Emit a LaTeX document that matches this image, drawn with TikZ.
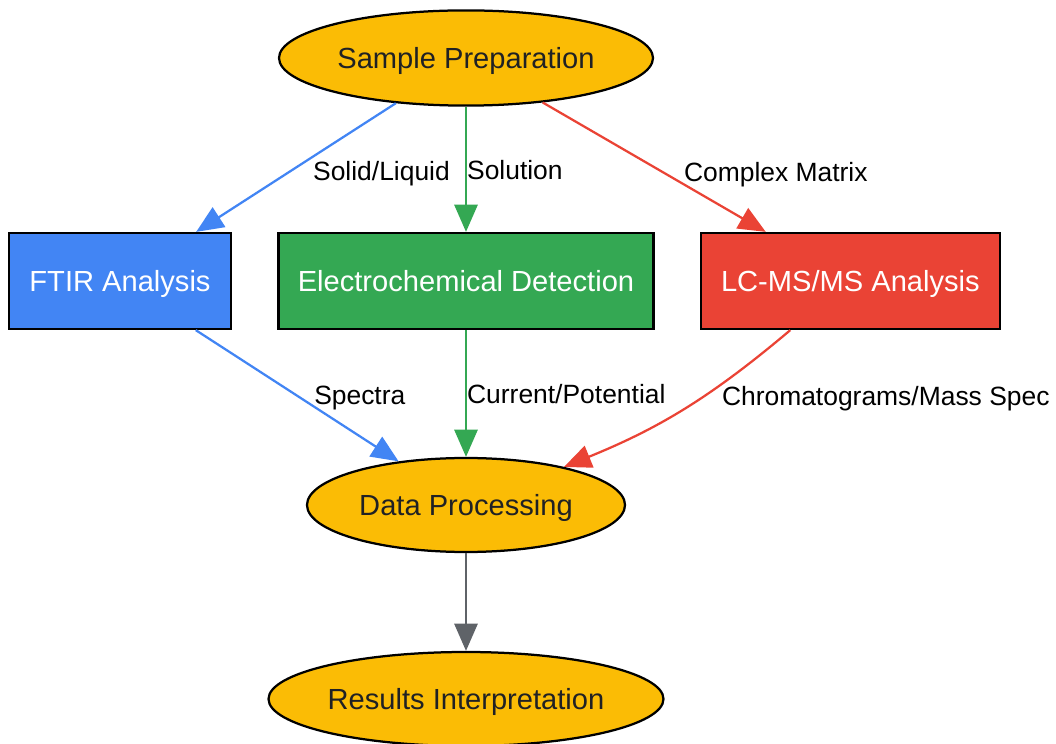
\documentclass[tikz,border=0pt]{standalone}
\usepackage{fontspec}
\setmainfont{Liberation Sans}
\usetikzlibrary{shapes.geometric,arrows.meta}
\definecolor{gyellow}{HTML}{FBBC05}
\definecolor{gblue}{HTML}{4285F4}
\definecolor{ggreen}{HTML}{34A853}
\definecolor{gred}{HTML}{EA4335}
\definecolor{ggray}{HTML}{5F6368}
\definecolor{gtext}{HTML}{202124}
\tikzset{
  stage/.style={draw,ellipse,fill=gyellow,line width=1.6pt,inner sep=0pt,minimum height=2.38cm,text=gtext,
    text height=14.8pt,text depth=0pt,font=\fontsize{20.7}{24}\selectfont},
  method/.style={draw,rectangle,line width=1.6pt,inner sep=0pt,minimum height=2.4cm,text=white,
    text height=14.8pt,text depth=0pt,font=\fontsize{20.7}{24}\selectfont},
  flow/.style={line width=1.6pt,-{Triangle[length=0.68cm,width=0.58cm]}},
  lbl/.style={inner sep=0pt,anchor=west,text=black,text height=14.2pt,text depth=0pt,font=\fontsize{18.8}{22}\selectfont}
}
\begin{document}
\begin{tikzpicture}
\useasboundingbox (0,0) rectangle (26.4,-18.6);
% stages
\node[stage,minimum width=9.35cm] (SP) at (11.65,-1.45) {Sample Preparation};
\node[stage,minimum width=7.95cm,minimum height=2.35cm] (DP) at (11.65,-12.625) {Data Processing};
\node[stage,minimum width=9.875cm,minimum height=2.35cm] (RI) at (11.65,-17.475) {Results Interpretation};
% methods
\node[method,fill=gblue,minimum width=5.55cm] (FTIR) at (3.0,-7.025) {FTIR Analysis};
\node[method,fill=ggreen,minimum width=9.375cm] (EC) at (11.65,-7.025) {Electrochemical Detection};
\node[method,fill=gred,minimum width=7.475cm] (LCMS) at (21.26,-7.025) {LC-MS/MS Analysis};
% from sample preparation
\draw[flow,gblue] (SP) -- node[lbl,pos=0.52,xshift=0.5cm] {Solid/Liquid} (FTIR);
\draw[flow,ggreen] (SP) -- node[lbl,pos=0.5] {Solution} (EC);
\draw[flow,gred] (SP) -- node[lbl,pos=0.53,xshift=0.55cm] {Complex Matrix} (LCMS);
% to data processing
\draw[flow,gblue] (FTIR) -- node[lbl,pos=0.49,xshift=0.45cm] {Spectra} (DP);
\draw[flow,ggreen] (EC) -- node[lbl,pos=0.5] {Current/Potential} (DP);
\draw[flow,gred] (LCMS) to[bend left=9] node[lbl,pos=0.4,xshift=0.42cm] {Chromatograms/Mass Spec} (DP);
\draw[flow,ggray] (DP) -- (RI);
\end{tikzpicture}
\end{document}
